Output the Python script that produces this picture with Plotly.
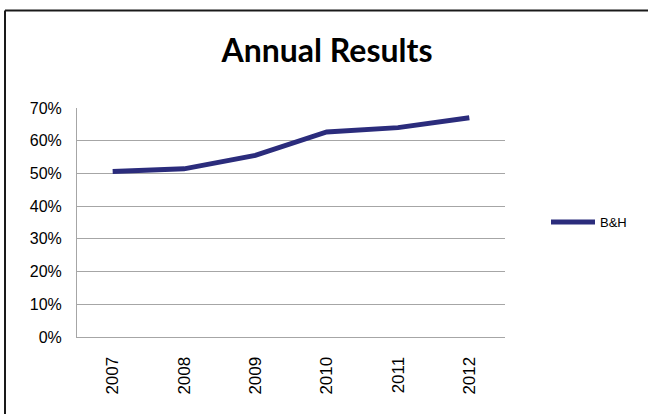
import plotly.graph_objects as go

years = ["2007", "2008", "2009", "2010", "2011", "2012"]
bh_values = [0.506, 0.514, 0.555, 0.627, 0.640, 0.670]

W, H = 648, 414
L, R, T, B = 77, 143, 108, 77
pw, ph = W - L - R, H - T - B


def px_x(px):
    return (px - L) / pw


def px_y(py):
    return (H - B - py) / ph


fig = go.Figure()
fig.add_trace(
    go.Scatter(
        x=years,
        y=bh_values,
        mode="lines",
        name="B&H",
        line=dict(color="#2B2C7C", width=5),
    )
)

# chart-area frame: only top and left edges fall inside the window
frame = dict(color="#1a1a1a", width=2)

fig.update_layout(
    width=W,
    height=H,
    margin=dict(l=L, r=R, t=T, b=B),
    plot_bgcolor="white",
    paper_bgcolor="white",
    font=dict(family="Liberation Sans, Arial, sans-serif", color="black", size=16),
    title=dict(
        text="<b>Annual Results</b>",
        font=dict(family="Lato, Carlito, sans-serif", size=32, color="black"),
        xref="container",
        x=327 / W,
        xanchor="center",
        yref="container",
        y=1 - 51 / H,
        yanchor="middle",
    ),
    showlegend=True,
    legend=dict(
        x=px_x(546),
        xanchor="left",
        y=px_y(222),
        yanchor="middle",
        font=dict(size=13),
        itemwidth=44,
        bgcolor="rgba(0,0,0,0)",
    ),
    xaxis=dict(
        type="category",
        range=[-0.5, 5.5],
        showgrid=False,
        showline=True,
        linecolor="#A6A6A6",
        linewidth=1,
        ticks="outside",
        ticklen=12,
        tickcolor="rgba(0,0,0,0)",
        tickangle=-90,
        tickfont=dict(size=17),
    ),
    yaxis=dict(
        range=[0, 0.7],
        dtick=0.1,
        tickformat=".0%",
        showgrid=True,
        gridcolor="#A6A6A6",
        gridwidth=1,
        showline=True,
        linecolor="#A6A6A6",
        linewidth=1,
        zeroline=False,
        ticks="outside",
        ticklen=11,
        tickcolor="rgba(0,0,0,0)",
        tickfont=dict(size=16),
    ),
    shapes=[
        dict(type="line", xref="paper", yref="paper",
             x0=px_x(5), x1=px_x(W), y0=px_y(10.5), y1=px_y(10.5), line=frame),
        dict(type="line", xref="paper", yref="paper",
             x0=px_x(5), x1=px_x(5), y0=px_y(10.5), y1=px_y(H), line=frame),
    ],
)

fig.write_html(
    "out.html",
    config={"displayModeBar": False},
    post_script=(
        "document.documentElement.style.overflow='hidden';"
        "document.body.style.margin='0';document.body.style.overflow='hidden';"
    ),
)
